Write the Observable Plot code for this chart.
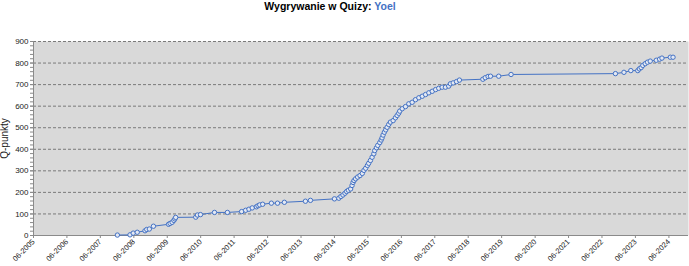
<!DOCTYPE html>
<html><head><meta charset="utf-8">
<script src="https://cdn.jsdelivr.net/npm/d3@7"></script>
<script src="https://cdn.jsdelivr.net/npm/@observablehq/plot@0.6"></script>
<style>
body{margin:0;background:#fff;font-family:"Liberation Sans",Arial,sans-serif;}
#title{position:absolute;top:0;left:0;width:660px;text-align:center;font-weight:bold;font-size:10.5px;line-height:13px;color:#000;}
#chart{position:absolute;top:14px;left:0;}
</style></head><body>
<div id="title">Wygrywanie w Quizy: <span style="color:#4472c4">Yoel</span></div>
<div id="chart"></div>
<script>
const dates = [
"2007-12-04","2008-04-20","2008-05-25","2008-07-08","2008-10-01","2008-10-20","2008-11-17","2009-01-01",
"2009-06-15","2009-07-02","2009-07-24","2009-08-12","2009-08-23","2009-09-01","2010-04-08","2010-04-26",
"2010-05-30","2010-10-30","2011-03-20","2011-08-22","2011-10-05","2011-11-10","2011-12-16","2012-01-30",
"2012-02-17","2012-03-07","2012-04-08","2012-07-12","2012-09-17","2012-12-01","2013-07-19","2013-09-12",
"2014-06-01","2014-07-19","2014-08-11","2014-09-02","2014-09-24","2014-10-12","2014-10-31","2014-11-25",
"2014-12-10","2014-12-21","2015-01-01","2015-01-18","2015-02-09","2015-03-07","2015-04-01","2015-04-19",
"2015-05-08","2015-05-27","2015-06-10","2015-06-29","2015-07-17","2015-08-05","2015-08-15","2015-09-03",
"2015-09-17","2015-10-09","2015-10-24","2015-11-03","2015-11-14","2015-11-28","2015-12-13","2015-12-28",
"2016-01-15","2016-02-02","2016-03-03","2016-03-28","2016-04-16","2016-05-03","2016-05-14","2016-06-10",
"2016-07-16","2016-08-21","2016-09-27","2016-11-02","2016-12-09","2017-01-15","2017-02-20","2017-03-28",
"2017-05-04","2017-06-10","2017-07-14","2017-08-20","2017-09-25","2017-10-31","2017-11-19","2017-12-19",
"2018-01-24","2018-02-25","2018-11-08","2018-12-04","2019-01-04","2019-01-30","2019-04-30","2019-09-12",
"2022-10-26","2023-01-27","2023-04-12","2023-06-27","2023-07-14","2023-08-03","2023-08-21","2023-09-16",
"2023-10-11","2023-11-10","2024-01-15","2024-02-20","2024-03-17","2024-06-16","2024-07-16"
];
const points = [
2,3,11,15,22,28,30,43,
52,56,61,70,77,84,85,95,
97,107,107,111,117,122,128,133,
138,142,145,150,150,154,159,163,
170,173,181,188,196,204,210,216,
232,246,255,263,271,278,288,302,
312,325,335,348,363,379,394,407,
418,431,443,453,466,479,490,502,
515,526,533,546,557,567,577,588,
598,611,618,630,639,646,654,662,
669,677,683,688,688,693,704,708,
714,721,725,732,738,739,739,747,
751,757,765,765,773,779,789,797,
804,809,813,818,823,827,827
];
const yTicks = [0,100,200,300,400,500,600,700,800,900];
const tickYears = [2005,2006,2007,2008,2009,2010,2011,2012,2013,2014,2015,2016,2017,2018,2019,2020,2021,2022,2023,2024];
const xStart = "2005-06-01", xEnd = "2025-01-01";

const data = dates.map((d, i) => ({date: new Date(d), value: points[i]}));
const xTicks = tickYears.map(y => new Date(Date.UTC(y, 5, 1)));
const minorTicks = d3.range(0, 901, 20);
const blue = "#4472c4";

const chart = Plot.plot({
  width: 689, height: 252,
  marginTop: 27, marginBottom: 31, marginLeft: 33, marginRight: 1,
  style: {fontFamily: "'Liberation Sans', Arial, sans-serif", fontSize: "8px", color: "#222", background: "transparent"},
  x: {type: "utc", domain: [new Date(xStart), new Date(xEnd)]},
  y: {domain: [0, 900]},
  marks: [
    Plot.frame({fill: "#d9d9d9", stroke: "none"}),
    Plot.gridY(yTicks.filter(v => v > 0), {stroke: "#7a7a7a", strokeOpacity: 1, strokeDasharray: "3,2"}),
    Plot.ruleY([0], {stroke: "#8a8a8a"}),
    Plot.ruleX([new Date(xStart)], {stroke: "#8a8a8a"}),
    Plot.axisY(minorTicks, {tickSize: 3, tickFormat: () => "", stroke: "#8a8a8a", label: null}),
    Plot.axisY(yTicks, {tickSize: 3, tickPadding: 2, fontSize: 8, stroke: "#8a8a8a", label: null}),
    Plot.axisY([], {tickSize: 0, fontSize: 10, label: "Q-punkty", labelAnchor: "center", labelArrow: "none", labelOffset: 33}),
    Plot.axisX(xTicks, {tickFormat: d3.utcFormat("%m-%Y"), tickRotate: -45, tickSize: 3, tickPadding: 2,
      fontSize: 7.5, stroke: "#8a8a8a", label: null}),
    Plot.line(data, {x: "date", y: "value", stroke: blue, strokeWidth: 1}),
    Plot.dot(data, {x: "date", y: "value", r: 2.2, stroke: blue, fill: "#e4e9f3", strokeWidth: 1})
  ]
});
document.getElementById("chart").appendChild(chart);
</script>
</body></html>
